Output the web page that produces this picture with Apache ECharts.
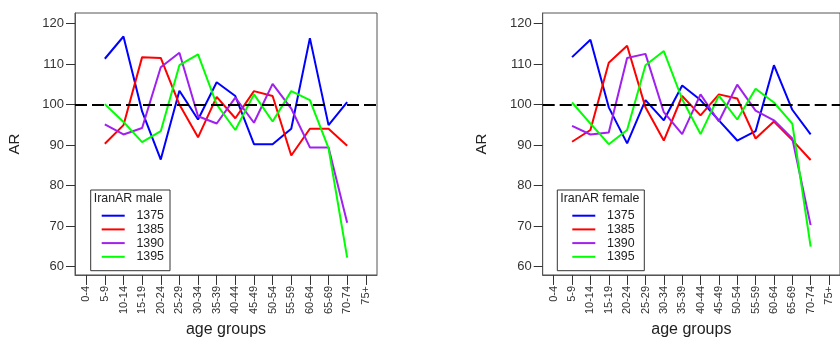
<!DOCTYPE html>
<html>
<head>
<meta charset="utf-8">
<script src="https://cdn.jsdelivr.net/npm/echarts@6/dist/echarts.min.js"></script>
<style>
  html, body { margin: 0; padding: 0; background: #fff; }
  #chart { width: 840px; height: 343px; }
</style>
</head>
<body>
<div id="chart"></div>
<script>
// age group labels on the x axis
const categories = ['0-4', '5-9', '10-14', '15-19', '20-24', '25-29', '30-34', '35-39',
  '40-44', '45-49', '50-54', '55-59', '60-64', '65-69', '70-74', '75+']
const yTicks = [60, 70, 80, 90, 100, 110, 120]
const years = ['1375', '1385', '1390', '1395']
const refLine = 100

// male AR by age group
const male1375 = [null, 111.3, 116.8, 98.3, 86.4, 103.4, 96.3, 105.5, 102.1, 90.2, 90.2, 94.0, 116.4, 94.9, 100.6, null]
const male1385 = [null, 90.3, 94.9, 111.7, 111.5, 100.0, 91.9, 101.9, 96.6, 103.3, 102.1, 87.4, 94.0, 94.0, 89.8, null]
const male1390 = [null, 95.1, 92.6, 94.2, 109.2, 112.8, 97.1, 95.3, 101.7, 95.5, 105.1, 99.0, 89.4, 89.4, 70.8, null]
const male1395 = [null, 100.1, 95.7, 90.7, 93.4, 109.7, 112.4, 100.0, 93.7, 102.5, 95.8, 103.3, 101.1, 89.2, 62.2, null]

// female AR by age group
const female1375 = [null, 111.7, 116.0, 99.3, 90.4, 101.1, 96.1, 104.7, 101.1, 96.1, 91.1, 93.4, 109.7, 98.7, 92.6, null]
const female1385 = [null, 90.8, 93.7, 110.3, 114.5, 99.3, 91.1, 102.1, 97.3, 102.5, 101.5, 91.6, 95.8, 91.2, 86.3, null]
const female1390 = [null, 94.7, 92.6, 93.1, 111.5, 112.5, 98.1, 92.7, 102.5, 95.8, 104.9, 98.5, 96.1, 91.6, 70.2, null]
const female1395 = [null, 100.5, 95.3, 90.2, 93.7, 109.7, 113.2, 101.3, 92.7, 102.2, 96.3, 103.9, 100.5, 95.3, 64.9, null]

const colors = ['#0000ff', '#ff0000', '#a020f0', '#00ff00']
const font = 'Liberation Sans, Arial, sans-serif'
const xIdx = categories.map((c, i) => i)

const chart = echarts.init(document.getElementById('chart'))

const mkSeries = (name, data, gi, color, withRef) => {
  const s = {
    type: 'line',
    name,
    xAxisIndex: gi,
    yAxisIndex: gi,
    data: data.map((v, i) => [i, v]).filter(p => p[1] != null),
    symbol: 'none',
    lineStyle: { width: 2, color },
    itemStyle: { color },
    z: 2
  }
  if (withRef) {
    s.markLine = {
      silent: true,
      symbol: 'none',
      label: { show: false },
      lineStyle: { color: '#000', width: 2, type: [12, 5] },
      data: [{ yAxis: refLine }]
    }
  }
  return s
}

const xAxisFor = gi => ({
  type: 'value',
  gridIndex: gi,
  position: 'bottom',
  min: -0.6,
  max: 15.6,
  axisLine: { show: true, lineStyle: { color: '#555', width: 1 } },
  splitLine: { show: false },
  axisTick: { show: true, inside: false, customValues: xIdx, length: 10, lineStyle: { color: '#333' } },
  axisLabel: {
    customValues: xIdx, rotate: 90, margin: 11,
    formatter: v => categories[v], fontSize: 11, color: '#333', fontFamily: font
  },
  name: 'age groups',
  nameLocation: 'middle',
  nameGap: 43,
  nameTextStyle: { fontSize: 16, color: '#222', fontFamily: font }
})

const yAxisFor = gi => ({
  type: 'value',
  gridIndex: gi,
  position: 'left',
  min: 57.9,
  max: 122.6,
  axisLine: { show: true, onZero: false, lineStyle: { color: '#555', width: 1 } },
  splitLine: { show: false },
  axisTick: { show: true, inside: false, customValues: yTicks, length: 9, lineStyle: { color: '#333' } },
  axisLabel: { customValues: yTicks, margin: 11, fontSize: 13, color: '#333', fontFamily: font },
  name: 'AR',
  nameLocation: 'middle',
  nameGap: 53,
  nameRotate: 90,
  nameTextStyle: { fontSize: 15, color: '#222', fontFamily: font }
})

const legendFor = left => ({
  data: years,
  orient: 'vertical',
  left,
  top: 208.85,
  padding: 0,
  icon: 'rect',
  itemWidth: 23,
  itemHeight: 2,
  itemGap: 0,
  selectedMode: false,
  textStyle: { fontSize: 12.4, lineHeight: 13.7, color: '#222', fontFamily: font, padding: [0, 0, 0, 6.7] }
})

const legendBox = (x, w, title) => [
  { type: 'rect', shape: { x, y: 190, width: w, height: 80.7 }, style: { fill: '#fff', stroke: '#333', lineWidth: 1 }, z: 10 },
  { type: 'text', x: x + 3, y: 199, style: { text: title, fontSize: 12.4, fontFamily: font, fill: '#222', verticalAlign: 'middle' }, z: 11 }
]

const maleData = [male1375, male1385, male1390, male1395]
const femaleData = [female1375, female1385, female1390, female1395]

chart.setOption({
  animation: false,
  backgroundColor: '#fff',
  grid: [
    { left: 75, top: 13, width: 302, height: 270, show: true, borderColor: '#555', borderWidth: 1, backgroundColor: 'transparent' },
    { left: 542.7, top: 13, width: 302, height: 270, show: true, borderColor: '#555', borderWidth: 1, backgroundColor: 'transparent' }
  ],
  xAxis: [xAxisFor(0), xAxisFor(1)],
  yAxis: [yAxisFor(0), yAxisFor(1)],
  legend: [Object.assign(legendFor(101.7), { z: 12 }), Object.assign(legendFor(572.3), { z: 12 })],
  graphic: [...legendBox(90.7, 79.3, 'IranAR male'), ...legendBox(557.3, 87, 'IranAR female')],
  series: [
    ...maleData.map((d, k) => mkSeries(years[k], d, 0, colors[k], k === 3)),
    ...femaleData.map((d, k) => mkSeries(years[k], d, 1, colors[k], k === 3))
  ]
})
</script>
</body>
</html>
